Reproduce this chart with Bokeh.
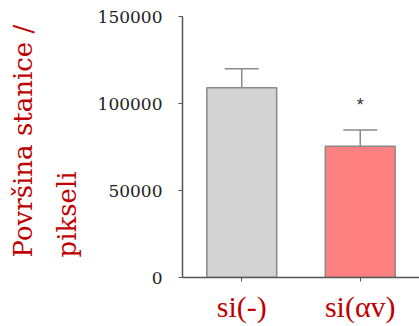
from bokeh.plotting import figure
from bokeh.models import (FactorRange, Range1d, FixedTicker, Whisker, ColumnDataSource,
                          TeeHead, Title, BasicTickFormatter)
from bokeh.embed import file_html
from bokeh.resources import INLINE

categories = ["si(-)", "si(αv)"]
means = [109000, 75500]
upper = [120000, 84700]
bar_colors = ["#d3d3d3", "#ff8080"]
significance = ["", "*"]
star_y = [101500, 101500]
y_ticks = [0, 50000, 100000, 150000]
y_title_lines = ["Površina stanice /", "pikseli"]

src = ColumnDataSource(dict(cat=categories, mean=means, upper=upper,
                            color=bar_colors, sig=significance, sy=star_y))

p = figure(width=419, height=326, output_backend="svg", toolbar_location=None,
           x_range=FactorRange(factors=categories, range_padding=0),
           y_range=Range1d(0, 150000),
           min_border_left=182, min_border_right=0, min_border_top=16, min_border_bottom=49)
p.x_range.factor_padding = 0
p.outline_line_color = None
p.grid.grid_line_color = None

p.vbar(x="cat", top="mean", width=0.59, source=src, fill_color="color",
       line_color="#8a8a8a", line_width=1.5)

w = Whisker(base="cat", upper="upper", lower="mean", source=src,
            line_color="#8a8a8a", line_width=1.5,
            upper_head=TeeHead(size=34, line_color="#8a8a8a", line_width=1.5),
            lower_head=None)
p.add_layout(w)

p.text(x="cat", y="sy", text="sig", source=src, text_align="center",
       text_baseline="middle", text_font_size="18px", text_color="#333333",
       y_offset=4)

yax = p.yaxis[0]
yax.ticker = FixedTicker(ticks=y_ticks)
yax.formatter = BasicTickFormatter(use_scientific=False)
yax.axis_line_color = "#555555"
yax.axis_line_width = 1.5
yax.major_tick_line_color = "#555555"
yax.major_tick_in = 0
yax.major_tick_out = 4
yax.minor_tick_line_color = None
yax.major_label_text_font = "DejaVu Serif"
yax.major_label_text_font_size = "17px"
yax.major_label_text_color = "#222222"
yax.major_label_standoff = 16

xax = p.xaxis[0]
xax.axis_line_color = "#555555"
xax.axis_line_width = 1.5
xax.major_tick_line_color = "#555555"
xax.major_tick_in = 0
xax.major_tick_out = 4
xax.major_label_text_font = "Liberation Serif"
xax.major_label_text_font_size = "30px"
xax.major_label_text_color = "#c00000"
xax.major_label_standoff = 8

# inner line first (closest to the axis), then the outer line
for line, so in zip(reversed(y_title_lines), [25, 0]):
    p.add_layout(Title(text=line, align="left", offset=20, standoff=so,
                       text_font="DejaVu Serif", text_font_size="26px",
                       text_font_style="normal", text_color="#c00000"), "left")

open("out.html", "w").write(file_html(p, INLINE))
